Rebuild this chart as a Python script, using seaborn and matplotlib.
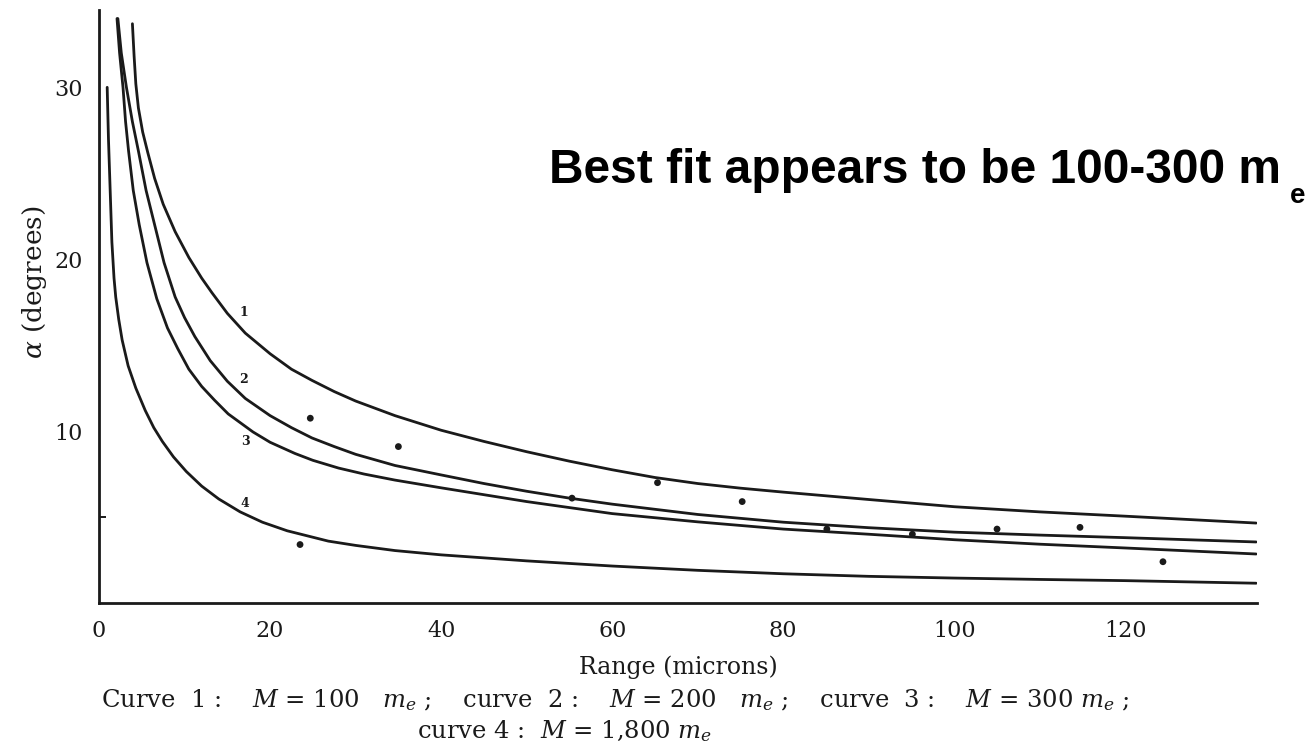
import numpy as np
import pandas as pd
import matplotlib
matplotlib.use("Agg")
import matplotlib.pyplot as plt
import seaborn as sns

# ---- data ----
curve1_x = [3.9, 4.1, 4.3, 4.6, 5.1, 5.7, 6.5, 7.5, 8.9, 10.5, 12.0, 13.2, 15.0, 17.1, 20.0, 22.5, 24.9,
            27.5, 30.0, 34.6, 40.0, 45.0, 50.0, 55.0, 60.0, 65.0, 70.0, 75.0, 80.0, 90.0, 100.0,
            110.0, 120.0, 135.3]
curve1_y = [33.7, 31.8, 30.2, 28.8, 27.4, 26.2, 24.7, 23.2, 21.6, 20.1, 18.9, 18.05, 16.85, 15.7, 14.5, 13.6, 12.95,
            12.3, 11.75, 10.9, 10.05, 9.4, 8.8, 8.25, 7.75, 7.3, 6.95, 6.68, 6.45, 6.02, 5.6,
            5.3, 5.05, 4.65]

curve2_x = [2.2, 2.6, 3.2, 3.9, 4.6, 5.5, 6.5, 7.6, 8.9, 10.0, 11.2, 13.0, 15.0, 17.1, 20.0, 22.5, 24.9,
            27.5, 30.0, 34.6, 40.0, 45.0, 50.0, 55.0, 60.0, 70.0, 80.0, 90.0, 100.0, 110.0, 120.0, 135.3]
curve2_y = [34.0, 32.0, 30.0, 28.0, 26.3, 24.0, 22.0, 19.8, 17.8, 16.6, 15.5, 14.1, 12.9, 11.9, 10.9, 10.2, 9.6,
            9.1, 8.65, 8.0, 7.45, 6.95, 6.5, 6.1, 5.75, 5.15, 4.7, 4.38, 4.12, 3.95, 3.8, 3.55]

curve3_x = [2.1, 2.4, 2.8, 3.1, 3.45, 4.0, 4.7, 5.6, 6.75, 8.0, 9.2, 10.5, 12.0, 13.5, 15.1, 18.0,
            20.0, 22.9, 25.0, 28.0, 31.0, 34.6, 40.0, 45.0, 50.0, 55.0, 60.0, 70.0, 80.0, 90.0,
            100.0, 110.0, 120.0, 135.3]
curve3_y = [34.0, 32.0, 30.0, 28.0, 26.3, 24.0, 22.0, 19.8, 17.7, 16.0, 14.8, 13.6, 12.6, 11.8, 11.0, 9.95,
            9.35, 8.7, 8.3, 7.85, 7.5, 7.15, 6.7, 6.3, 5.9, 5.55, 5.2, 4.72, 4.3, 4.0,
            3.68, 3.42, 3.2, 2.85]

curve4_x = [0.95, 1.1, 1.3, 1.5, 1.75, 1.95, 2.3, 2.7, 3.4, 4.3, 5.4, 6.4, 7.4, 8.7, 10.2, 12.0, 14.0,
            16.5, 19.1, 22.0, 26.8, 30.0, 34.6, 40.0, 50.0, 60.0, 70.0, 80.0, 90.0, 100.0, 110.0,
            120.0, 135.3]
curve4_y = [30.0, 27.0, 24.0, 21.0, 18.9, 17.8, 16.5, 15.3, 13.8, 12.5, 11.2, 10.2, 9.4, 8.5, 7.65, 6.8, 6.05,
            5.3, 4.7, 4.2, 3.6, 3.35, 3.05, 2.8, 2.45, 2.15, 1.9, 1.7, 1.55, 1.45, 1.37,
            1.3, 1.15]

points_x = [23.5, 24.7, 35.0, 55.3, 65.3, 75.2, 85.1, 95.1, 105.0, 114.7, 124.4]
points_y = [3.4, 10.75, 9.1, 6.1, 7.0, 5.9, 4.3, 4.0, 4.3, 4.4, 2.4]

curve_labels = ["1", "2", "3", "4"]
label_x = [16.9, 16.9, 17.1, 17.1]
label_y = [16.9, 13.0, 9.4, 5.8]

x_ticks = [0, 20, 40, 60, 80, 100, 120]
y_ticks = [10, 20, 30]

x_label = "Range (microns)"
y_label = r"$\alpha$ (degrees)"
caption1 = (r"Curve  1 :    $M$ = 100   $m_e$ ;    curve  2 :    $M$ = 200   $m_e$ ;"
            r"    curve  3 :    $M$ = 300 $m_e$ ;")
caption2 = r"curve 4 :  $M$ = 1,800 $m_e$"
note_text = "Best fit appears to be 100-300 m"
note_sub = "e"

# ---- style ----
sns.set_theme(style="white")
plt.rcParams["font.family"] = ["DejaVu Serif"]
plt.rcParams["mathtext.fontset"] = "dejavuserif"

ink = "#1a1a1a"

fig = plt.figure(figsize=(13.12, 7.56), dpi=100)
ax = fig.add_axes([0.0755, 0.2024, 0.8826, 0.7844])

curves = [(curve1_x, curve1_y), (curve2_x, curve2_y), (curve3_x, curve3_y), (curve4_x, curve4_y)]
for cx, cy in curves:
    df = pd.DataFrame({"x": cx, "y": cy})
    sns.lineplot(data=df, x="x", y="y", ax=ax, color=ink, linewidth=2.0,
                 sort=False, estimator=None)

sns.scatterplot(x=points_x, y=points_y, ax=ax, color=ink, s=24, edgecolor="none", zorder=3)

for t, lx, ly in zip(curve_labels, label_x, label_y):
    ax.text(lx, ly, t, ha="center", va="center", fontsize=9, fontweight="bold", color=ink)

ax.set_xlim(0, 135.4)
ax.set_ylim(0, 34.5)
ax.set_xticks(x_ticks)
ax.set_yticks(y_ticks)
ax.set_yticks([5], minor=True)
ax.tick_params(axis="both", which="major", direction="in", length=8, width=1.6,
               colors=ink, labelsize=16, pad=12)
ax.tick_params(axis="y", which="minor", direction="in", length=5, width=1.4, colors=ink, left=True)
for s in ["top", "right"]:
    ax.spines[s].set_visible(False)
for s in ["left", "bottom"]:
    ax.spines[s].set_color(ink)
    ax.spines[s].set_linewidth(2.0)

ax.set_xlabel(x_label, fontsize=17, color=ink, labelpad=10)
ax.set_ylabel(y_label, fontsize=19, color=ink)
ax.yaxis.set_label_coords(-0.043, 0.54)

fig.text(615 / 1312, 1 - 700 / 756, caption1, ha="center", va="center", fontsize=17.5, color=ink)
fig.text(565 / 1312, 1 - 731 / 756, caption2, ha="center", va="center", fontsize=17.5, color=ink)

fig.text(549 / 1312, 1 - 183 / 756, note_text, ha="left", va="baseline",
         fontsize=34.5, fontweight="bold", family=["Liberation Sans", "DejaVu Sans"], color="black")
fig.text(1290 / 1312, 1 - 203 / 756, note_sub, ha="left", va="baseline",
         fontsize=20, fontweight="bold", family=["Liberation Sans", "DejaVu Sans"], color="black")

fig.savefig("out.png", dpi=100, facecolor="white")
